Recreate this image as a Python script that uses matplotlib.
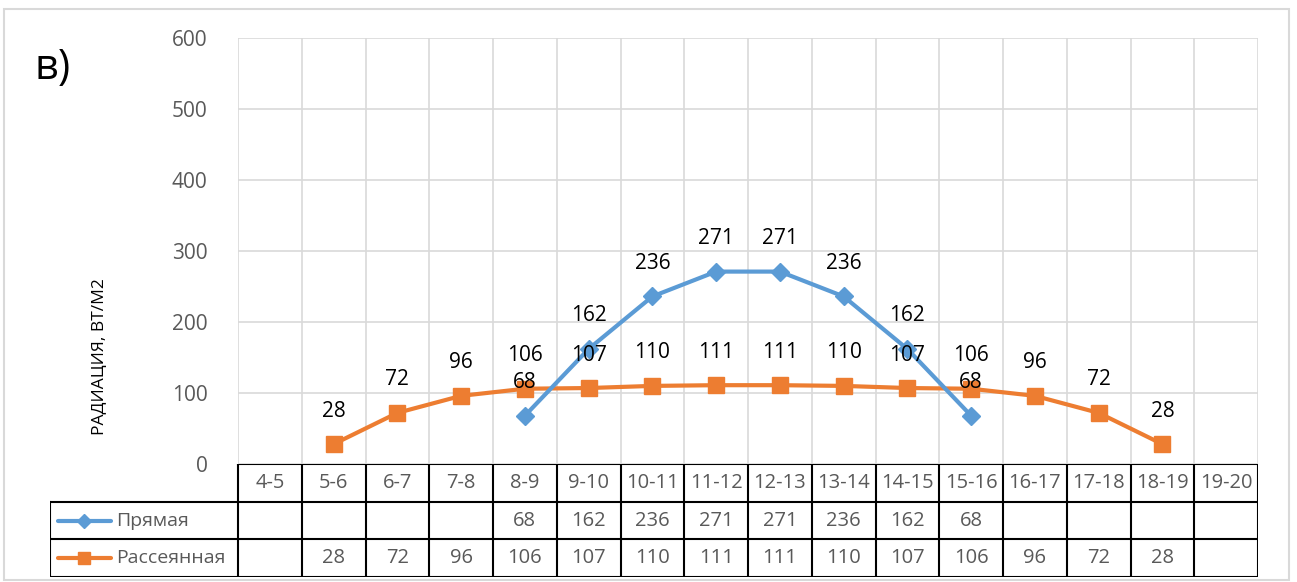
import numpy as np
import matplotlib.pyplot as plt
from matplotlib.lines import Line2D
from matplotlib.patches import Rectangle

# --- data ---
hours = ['4-5', '5-6', '6-7', '7-8', '8-9', '9-10', '10-11', '11-12',
         '12-13', '13-14', '14-15', '15-16', '16-17', '17-18', '18-19', '19-20']
direct = [np.nan, np.nan, np.nan, np.nan, 68, 162, 236, 271,
          271, 236, 162, 68, np.nan, np.nan, np.nan, np.nan]
diffuse = [np.nan, 28, 72, 96, 106, 107, 110, 111,
           111, 110, 107, 106, 96, 72, 28, np.nan]
series_names = ['Прямая', 'Рассеянная']
y_ticks = [0, 100, 200, 300, 400, 500, 600]
y_label = 'РАДИАЦИЯ, ВТ/М2'
panel_tag = 'в)'

plt.rcParams['font.family'] = ['Open Sans', 'DejaVu Sans']

W, H = 1297, 582
fig = plt.figure(figsize=(W / 100, H / 100), dpi=100)

blue = '#5B9BD5'
orange = '#ED7D31'
grid_c = '#D9D9D9'
txt_c = '#595959'

# outer chart border
fig.patches.append(Rectangle((4 / W, 1 - 580 / H), 1285 / W, 571 / H,
                             transform=fig.transFigure, fill=False,
                             edgecolor='#D9D9D9', lw=1.5))

# plot area
left, right, top, bottom = 238, 1258, 38, 464
ax = fig.add_axes([left / W, 1 - bottom / H, (right - left) / W, (bottom - top) / H])
n = len(hours)
x = np.arange(n)
ax.set_xlim(-0.5, n - 0.5)
ax.set_ylim(0, 600)
ax.set_yticks(y_ticks)
ax.set_yticklabels([str(v) for v in y_ticks], color=txt_c, fontsize=15)
ax.tick_params(axis='y', length=0, pad=22)
ax.set_xticks([])
for s in ax.spines.values():
    s.set_visible(False)
for v in y_ticks:
    ax.axhline(v, color=grid_c, lw=1.2, zorder=0)
for b in np.arange(n + 1) - 0.5:
    ax.axvline(b, color=grid_c, lw=1.2, zorder=0)

ax.plot(x, diffuse, color=orange, lw=3, marker='s', markersize=11, zorder=3)
ax.plot(x, direct, color=blue, lw=3, marker='D', markersize=9, zorder=4)

for vals in (direct, diffuse):
    for xi, v in zip(x, vals):
        if not np.isnan(v):
            ax.annotate(f'{v:.0f}', (xi, v), xytext=(0, 33), textcoords='offset pixels',
                        ha='center', va='center', fontsize=15, color='black', zorder=5)

fig.text(100 / W, 1 - 357 / H, y_label, rotation=90, ha='center', va='center',
         fontsize=12.5, color='black')
fig.text(35 / W, 1 - 68 / H, panel_tag, ha='left', va='center', fontsize=30, color='black')

# data table below the plot
tleft, tbottom = 50, 577
step = (right - left) / n
tax = fig.add_axes([tleft / W, 1 - tbottom / H, (right - tleft) / W, (tbottom - bottom) / H])
tax.set_xlim(-0.5 - (left - tleft) / step, n - 0.5)
tax.set_ylim(3, 0)
tax.axis('off')
lk = dict(color='black', lw=1.5, solid_capstyle='projecting')
x0 = tax.get_xlim()[0]
# horizontal lines
tax.plot([-0.5, n - 0.5], [0, 0], **lk)
for r in (1, 2, 3):
    tax.plot([x0, n - 0.5], [r, r], **lk)
# vertical lines
for b in np.arange(n + 1) - 0.5:
    tax.plot([b, b], [0, 3], **lk)
tax.plot([x0, x0], [1, 3], **lk)

for i, h in enumerate(hours):
    tax.text(i, 0.5, h, ha='center', va='center', fontsize=14.5, color=txt_c)
for r, vals in ((1.5, direct), (2.5, diffuse)):
    for i, v in enumerate(vals):
        if not np.isnan(v):
            tax.text(i, r, f'{v:.0f}', ha='center', va='center', fontsize=14.5, color=txt_c)

# legend keys in the table
key_x = [x0 + 0.12, x0 + 0.95]
for r, name, col, mk, ms in ((1.5, series_names[0], blue, 'D', 7),
                             (2.5, series_names[1], orange, 's', 9)):
    tax.add_line(Line2D(key_x, [r, r], color=col, lw=3, solid_capstyle='round'))
    tax.plot([(key_x[0] + key_x[1]) / 2], [r], marker=mk, color=col, markersize=ms)
    tax.text(key_x[1] + 0.08, r, name, ha='left', va='center', fontsize=14, color=txt_c)

fig.savefig('out.png', dpi=100)
